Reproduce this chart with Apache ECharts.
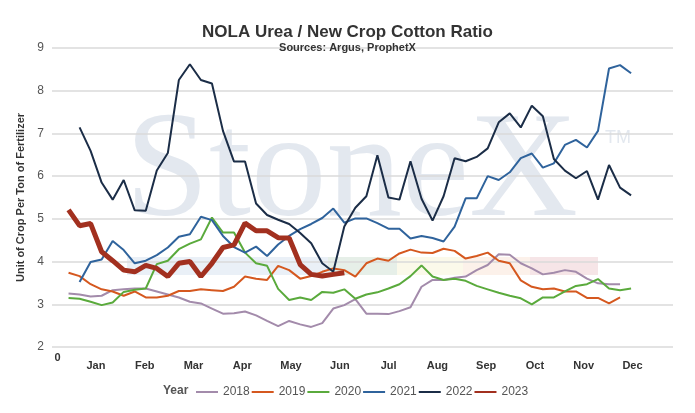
<!DOCTYPE html>
<html>
<head>
<meta charset="utf-8">
<title>NOLA Urea / New Crop Cotton Ratio</title>
<script src="https://cdn.jsdelivr.net/npm/echarts@6/dist/echarts.min.js"></script>
<style>
    html, body { margin: 0; padding: 0; background: #fff; }
    #chart { width: 695px; height: 413px; }
</style>
</head>
<body>
<div id="chart"></div>
<script>
// 周数据，按年份
var years = ['2018', '2019', '2020', '2021', '2022', '2023'];
var months = ['Jan', 'Feb', 'Mar', 'Apr', 'May', 'Jun', 'Jul', 'Aug', 'Sep', 'Oct', 'Nov', 'Dec'];
var monthNumbers = [1, 2, 3, 4, 5, 6, 7, 8, 9, 10, 11, 12];
var weekTicks = [0];

var start2018 = 1;
var ratio2018 = [3.25, 3.23, 3.18, 3.2, 3.33, 3.35, 3.37, 3.37, 3.3, 3.23,
    3.16, 3.06, 3.02, 2.9, 2.78, 2.79, 2.83, 2.74, 2.61, 2.49,
    2.61, 2.53, 2.47, 2.56, 2.9, 2.98, 3.12, 2.78, 2.78, 2.77,
    2.84, 2.93, 3.41, 3.57, 3.57, 3.62, 3.65, 3.8, 3.92, 4.17,
    4.16, 3.96, 3.84, 3.7, 3.74, 3.8, 3.76, 3.6, 3.49, 3.47, 3.47];

var start2019 = 1;
var ratio2019 = [3.74, 3.66, 3.47, 3.35, 3.3, 3.2, 3.3, 3.16, 3.16, 3.2,
    3.31, 3.31, 3.35, 3.33, 3.31, 3.41, 3.65, 3.6, 3.57, 3.9,
    3.8, 3.6, 3.66, 3.76, 3.84, 3.8, 3.65, 3.96, 4.07, 4.02,
    4.19, 4.28, 4.21, 4.2, 4.3, 4.25, 4.07, 4.13, 4.21, 4.02,
    3.96, 3.56, 3.41, 3.35, 3.37, 3.3, 3.3, 3.15, 3.15, 3.02, 3.16];

var start2020 = 1;
var ratio2020 = [3.15, 3.13, 3.06, 2.98, 3.04, 3.29, 3.34, 3.37, 3.94, 4.02,
    4.29, 4.42, 4.52, 5.03, 4.68, 4.68, 4.21, 3.96, 3.9, 3.36,
    3.1, 3.16, 3.1, 3.29, 3.27, 3.35, 3.13, 3.23, 3.28, 3.37,
    3.47, 3.66, 3.91, 3.65, 3.57, 3.6, 3.55, 3.43, 3.35, 3.27,
    3.2, 3.14, 3.0, 3.16, 3.16, 3.3, 3.43, 3.47, 3.59, 3.37, 3.33, 3.37];

var start2021 = 2;
var ratio2021 = [3.52, 3.99, 4.05, 4.48, 4.27, 3.96, 4.02, 4.15, 4.33, 4.58,
    4.64, 5.05, 4.97, 4.6, 4.34, 4.21, 4.35, 4.13, 4.4, 4.6,
    4.76, 4.88, 5.02, 5.24, 4.91, 5.01, 5.01, 4.9, 4.77, 4.77,
    4.54, 4.6, 4.55, 4.47, 4.82, 5.48, 5.48, 6.0, 5.91, 6.09,
    6.42, 6.53, 6.2, 6.3, 6.73, 6.85, 6.67, 7.06, 8.52, 8.6, 8.41];

var start2022 = 2;
var ratio2022 = [7.14, 6.59, 5.85, 5.45, 5.91, 5.2, 5.19, 6.13, 6.54, 8.25,
    8.62, 8.25, 8.17, 7.06, 6.34, 6.34, 5.36, 5.09, 4.98, 4.88,
    4.67, 4.43, 3.96, 3.76, 4.82, 5.26, 5.53, 6.49, 5.5, 5.45,
    6.35, 5.47, 4.96, 5.53, 6.42, 6.35, 6.45, 6.65, 7.26, 7.47,
    7.14, 7.65, 7.4, 6.4, 6.13, 5.95, 6.12, 5.45, 6.26, 5.73, 5.55];

var start2023 = 1;
var ratio2023 = [5.21, 4.84, 4.89, 4.23, 4.02, 3.8, 3.76, 3.91, 3.84, 3.65,
    3.96, 4.0, 3.65, 3.96, 4.33, 4.39, 4.9, 4.72, 4.72, 4.56,
    4.55, 3.93, 3.7, 3.66, 3.7, 3.74];

var yTicks = [2, 3, 4, 5, 6, 7, 8, 9];

var sans = '"Liberation Sans", Arial, sans-serif';

function toPairs(start, vals){
    return vals.map(function(v, i){ return [start + i, v]; });
}

function lineSeries(name, start, vals, color, width){
    return {
        name: name,
        type: 'line',
        xAxisIndex: 0,
        symbol: 'none',
        smooth: false,
        data: toPairs(start, vals),
        lineStyle: { color: color, width: width },
        itemStyle: { color: color },
        emphasis: { disabled: true },
        z: width > 3 ? 5 : 3
    };
}

var myChart = echarts.init(document.getElementById('chart'), null, { renderer: 'canvas' });

var option = {
    backgroundColor: '#fff',
    animation: false,
    title: {
        text: 'NOLA Urea / New Crop Cotton Ratio',
        subtext: 'Sources: Argus, ProphetX',
        left: 'center',
        top: 19,
        itemGap: 1,
        textStyle: { fontFamily: sans, fontSize: 17, fontWeight: 'bold', color: '#333' },
        subtextStyle: { fontFamily: sans, fontSize: 11, fontWeight: 'bold', color: '#333' }
    },
    legend: {
        data: years,
        left: 191,
        top: 381,
        itemWidth: 22,
        itemHeight: 10,
        itemGap: 2,
        icon: 'path://M0,4 L22,4 L22,6 L0,6 Z',
        textStyle: { fontFamily: sans, fontSize: 12, color: '#555' },
        selectedMode: false
    },
    // 水印
    graphic: [
        { type: 'rect', z: -10, shape: { x: 127, y: 257, width: 201, height: 18 }, style: { fill: '#eaf0f7' } },
        { type: 'rect', z: -10, shape: { x: 328, y: 257, width: 69, height: 18 }, style: { fill: '#e6efe8' } },
        { type: 'rect', z: -10, shape: { x: 397, y: 257, width: 66, height: 18 }, style: { fill: '#fbf9ea' } },
        { type: 'rect', z: -10, shape: { x: 463, y: 257, width: 67, height: 18 }, style: { fill: '#fcf1ea' } },
        { type: 'rect', z: -10, shape: { x: 530, y: 257, width: 68, height: 18 }, style: { fill: '#f6e5e7' } },
        { type: 'text', z: -10, x: 125, y: 175,
          style: { text: 'StoneX', font: '151px "Liberation Serif", serif', fill: '#e3e8ef', verticalAlign: 'middle' } },
        { type: 'text', z: -10, x: 605, y: 138,
          style: { text: 'TM', font: '18px "Liberation Sans", sans-serif', fill: '#e3e8ef', verticalAlign: 'middle' } },
        { type: 'text', z: 10, x: 163, y: 391,
          style: { text: 'Year', font: 'bold 12px ' + sans, fill: '#555', verticalAlign: 'middle' } }
    ],
    grid: {
        left: 52,
        right: 22,
        top: 48,
        bottom: 66,
        containLabel: false
    },
    xAxis: [
        {
            type: 'value',
            min: -0.5,
            max: 55.8,
            axisLine: { show: false },
            axisTick: { show: false },
            splitLine: { show: false },
            axisLabel: {
                customValues: weekTicks,
                margin: 5,
                fontFamily: sans,
                fontSize: 11,
                fontWeight: 'bold',
                color: '#333'
            }
        },
        {
            type: 'value',
            position: 'bottom',
            min: 0.1,
            max: 12.83,
            axisLine: { show: false },
            axisTick: { show: false },
            splitLine: { show: false },
            axisLabel: {
                customValues: monthNumbers,
                margin: 13,
                fontFamily: sans,
                fontSize: 11,
                fontWeight: 'bold',
                color: '#333',
                formatter: function(v){ return months[Math.round(v) - 1] || ''; }
            }
        }
    ],
    yAxis: {
        type: 'value',
        min: yTicks[0],
        max: yTicks[yTicks.length - 1],
        interval: 1,
        name: 'Unit of Crop Per Ton of Fertilizer',
        nameLocation: 'middle',
        nameGap: 24,
        nameRotate: 90,
        nameTextStyle: { fontFamily: sans, fontSize: 11, fontWeight: 'bold', color: '#333' },
        axisLine: { show: false },
        axisTick: { show: false },
        axisLabel: { margin: 8, fontFamily: sans, fontSize: 12, color: '#555' },
        splitLine: { lineStyle: { color: '#dadada', width: 1.5 } }
    },
    series: [
        lineSeries('2018', start2018, ratio2018, '#a38bab', 2),
        lineSeries('2019', start2019, ratio2019, '#d5581f', 2),
        lineSeries('2020', start2020, ratio2020, '#5aaa3c', 2),
        lineSeries('2021', start2021, ratio2021, '#2f639c', 2),
        lineSeries('2022', start2022, ratio2022, '#1b2d47', 2),
        lineSeries('2023', start2023, ratio2023, '#a2301f', 5)
    ]
};
myChart.setOption(option);
</script>
</body>
</html>
